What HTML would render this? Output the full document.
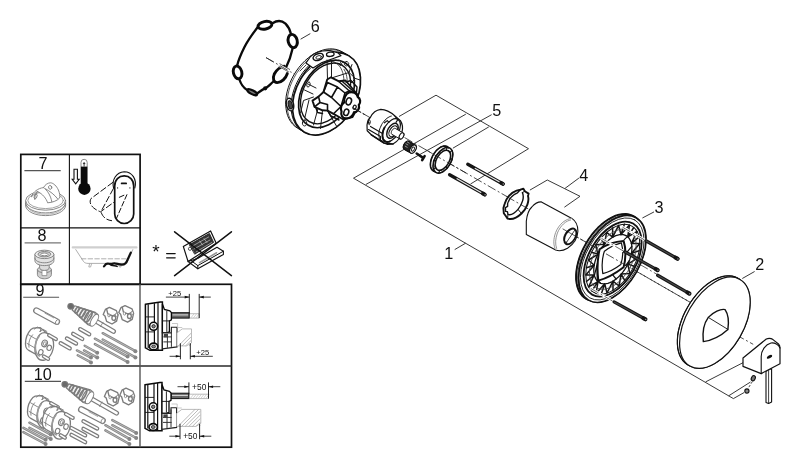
<!DOCTYPE html>
<html>
<head>
<meta charset="utf-8">
<title>Exploded diagram</title>
<style>
html,body{margin:0;padding:0;background:#fff;}
body{width:800px;height:468px;overflow:hidden;font-family:"Liberation Sans",sans-serif;}
svg{display:block;position:absolute;left:0;top:0;will-change:transform;transform:translateZ(0);}
text{opacity:0.999;}
text{font-family:"Liberation Sans",sans-serif;fill:#111;}
.k{stroke:#111;fill:none;stroke-width:1;stroke-linecap:round;stroke-linejoin:round;}
.kw{stroke:#111;fill:#fff;stroke-width:1;stroke-linecap:round;stroke-linejoin:round;}
.t{stroke:#222;fill:none;stroke-width:0.8;stroke-linecap:round;stroke-linejoin:round;}
.tw{stroke:#222;fill:#fff;stroke-width:0.8;stroke-linecap:round;stroke-linejoin:round;}
.g{stroke:#8a8a8a;fill:none;stroke-width:0.9;stroke-linecap:round;stroke-linejoin:round;}
.gw{stroke:#8a8a8a;fill:#fff;stroke-width:0.9;stroke-linecap:round;stroke-linejoin:round;}
.fr{stroke:#111;fill:none;stroke-width:1.6;}
.ld{stroke:#222;fill:none;stroke-width:0.9;}
.cl{stroke:#222;fill:none;stroke-width:0.8;stroke-dasharray:9 2.5 2 2.5;}
</style>
</head>
<body>
<svg width="800" height="468" viewBox="0 0 800 468">
<rect x="0" y="0" width="800" height="468" fill="#fff"/>

<!-- ===== FRAMES ===== -->
<g id="frames">
<rect class="fr" x="20.8" y="154.4" width="119.3" height="129.9" style="stroke-width:1.7"/>
<line class="fr" x1="69.4" y1="154.4" x2="69.4" y2="284.2" style="stroke-width:1.1"/>
<line class="fr" x1="20.7" y1="227.8" x2="140.1" y2="227.8" style="stroke-width:1.2"/>
<rect class="fr" x="20.8" y="284.3" width="210.7" height="162.9" style="stroke-width:1.7"/>
<line class="fr" x1="20.7" y1="366" x2="231.6" y2="366" style="stroke-width:1.6;stroke:#2a2a2a"/>
<line class="fr" x1="140" y1="284.2" x2="140" y2="447.2" style="stroke-width:1.4;stroke:#555"/>
</g>

<g id="leaders">
<path class="ld" d="M399,116.5 L436,95.2 L528.5,148.7 L470.5,184"/>
<path class="ld" d="M465.8,114.2 L353.5,178.2 L733.4,398.6 L744,392.6"/>
<path class="ld" d="M491.6,114.7 L365.8,184.5"/>
<path class="ld" d="M488.8,126.9 L452.9,148.2"/>
<path class="ld" d="M705.6,381.9 L743,362.7"/>
<path class="ld" d="M728.7,395.8 L750.5,382"/>
<path class="ld" d="M578.9,178.1 L565.1,188.3"/>
<path class="ld" d="M529.9,190.1 L547.3,180 L580,196.3 L564.4,207.2"/>
<path class="ld" d="M310.3,33.6 L300.6,39.2"/>
<path class="ld" d="M654,211.9 L642.4,218"/>
<path class="ld" d="M754.6,271.5 L742.3,278.5"/>
<path class="ld" d="M454.7,249.6 L465.6,243.2"/>
</g>
<g id="labels" font-size="16.2">
<text x="310.8" y="32.4">6</text>
<text x="492.2" y="116.4">5</text>
<text x="579.2" y="180.8">4</text>
<text x="654.4" y="212.7">3</text>
<text x="755.2" y="270.4">2</text>
<text x="444.2" y="259">1</text>
</g>
<g id="axis">
<line class="cl" x1="266.0" y1="57.6" x2="690.0" y2="302.2" />
<line class="cl" x1="707.9" y1="319.4" x2="753.2" y2="344.3" />
</g>
<g id="gasket" fill="none" stroke="#0a0a0a" stroke-width="2.3" stroke-linecap="round" stroke-linejoin="round">
<path d="M257.8,27 C254,32 248,40 244.5,47 C241,54 238.5,60 237.3,65"/>
<path d="M272.5,23.2 C277,20.3 282,20.6 285.5,23.6 C288.3,26.4 290,30 291,34"/>
<path d="M292.6,48.5 C291,56 288.5,62.5 286,67.5"/>
<path d="M273.5,81.5 C270,84.5 267.5,87.3 265,88.4 C262,89.6 259.5,92 257,93.6"/>
<path d="M246.6,89.6 C243.6,87.6 240.8,83.6 239.6,80"/>
<ellipse cx="265" cy="25.3" rx="7.0" ry="3.8" transform="rotate(-12 265 25.3)" fill="#fff" stroke-width="2.9"/>
<ellipse cx="292.7" cy="41" rx="4.5" ry="6.7" transform="rotate(-14 292.7 41)" fill="#fff" stroke-width="2.9"/>
<ellipse cx="237.6" cy="72.4" rx="4.2" ry="6.5" transform="rotate(-14 237.6 72.4)" fill="#fff" stroke-width="2.9"/>
<path d="M284.2,66.2 C281,66.6 276.5,69.5 274.3,74 C272.3,78.6 273.6,82.3 277.2,82.6 C281.6,82.6 285.8,78.4 287.3,73.6" fill="#fff" stroke-width="2.9"/>
<ellipse cx="252.2" cy="92.2" rx="5.4" ry="1.9" transform="rotate(27 252.2 92.2)" fill="#777" stroke-width="2.2"/>
<circle cx="265.2" cy="88.3" r="1.3" fill="#111" stroke-width="1.6"/>
</g>
<g id="axis-halo">
<line x1="274" y1="62.2" x2="290.5" y2="71.8" stroke="#fff" stroke-width="3.2"/>
<line x1="266" y1="57.6" x2="290.5" y2="71.75" class="cl"/>
<line x1="279.5" y1="63.6" x2="290" y2="69.6" stroke="#222" stroke-width="0.7"/>
<line x1="278.6" y1="66.2" x2="289" y2="72.2" stroke="#222" stroke-width="0.7"/>
</g>
<g id="body">
<path class="kw" d="M341.8,51.6 L339.0,50.3 L335.9,49.4 L332.7,48.9 L329.4,48.9 L325.9,49.3 L322.4,50.2 L318.8,51.5 L315.3,53.2 L311.8,55.3 L308.3,57.8 L305.0,60.7 L301.9,63.9 L299.0,67.3 L296.3,71.0 L293.8,75.0 L291.7,79.0 L289.8,83.2 L288.3,87.5 L287.1,91.8 L286.2,96.1 L285.8,100.3 L285.7,104.4 L286.0,108.3 L286.6,112.1 L287.6,115.6 L289.0,118.8 L290.7,121.7 L292.7,124.2 L295.0,126.4 L297.6,128.2 L304.4,132.2 L307.2,133.5 L310.3,134.4 L313.5,134.9 L316.8,134.9 L320.3,134.5 L323.8,133.6 L327.4,132.3 L330.9,130.6 L334.4,128.5 L337.9,126.0 L341.2,123.1 L344.3,119.9 L347.2,116.5 L349.9,112.8 L352.4,108.8 L354.5,104.8 L356.4,100.6 L357.9,96.3 L359.1,92.0 L360.0,87.7 L360.4,83.5 L360.5,79.4 L360.2,75.5 L359.6,71.7 L358.6,68.2 L357.2,65.0 L355.5,62.1 L353.5,59.6 L351.2,57.4 L348.6,55.6 Z" />
<path class="k" d="M344.9,54.0 L342.3,52.2 L339.4,51.0 L336.2,50.1 L332.9,49.8 L329.5,49.9 L326.0,50.4 L322.4,51.4 L318.7,52.9 L315.2,54.8 L311.6,57.1 L308.2,59.8 L304.9,62.8 L301.8,66.2 L299.0,69.8 L296.3,73.7 L294.0,77.8 L291.9,82.0 L290.2,86.3 L288.9,90.6 L287.9,95.0 L287.3,99.3 L287.0,103.5 L287.2,107.6 L287.7,111.4 L288.6,115.1 L289.9,118.4 L291.6,121.4 L293.5,124.1 L295.8,126.4 L298.4,128.3 L301.2,129.7" style="stroke-width:0.7"/>
<path class="k" d="M349.4,56.3 L346.7,54.5 L343.8,53.2 L340.6,52.4 L337.3,52.0 L333.8,52.1 L330.3,52.7 L326.7,53.7 L323.0,55.2 L319.4,57.1 L315.9,59.4 L312.4,62.1 L309.1,65.2 L306.0,68.6 L303.1,72.2 L300.5,76.1 L298.1,80.2 L296.0,84.5 L294.3,88.8 L292.9,93.2 L291.9,97.6 L291.3,101.9 L291.1,106.2 L291.2,110.2 L291.8,114.1 L292.7,117.8 L294.0,121.1 L295.6,124.2 L297.6,126.9 L299.9,129.2 L302.5,131.1 L305.4,132.5" style="stroke-width:1.0"/>
<ellipse class="kw" cx="326.5" cy="93.9" rx="44.2" ry="29.9" transform="rotate(-60 326.5 93.9)" style="stroke-width:1.7"/>
<ellipse class="kw" cx="326.5" cy="93.9" rx="36.3" ry="24.5" transform="rotate(-60 326.5 93.9)" style="stroke-width:1.7"/>
<ellipse class="kw" cx="325.6" cy="93.4" rx="32.6" ry="22.0" transform="rotate(-60 325.6 93.4)" style="stroke-width:1.3"/>
<path class="t" d="M311.5,67.0 L314.0,65.2 L316.6,63.6 L319.2,62.4 L321.8,61.5 L324.4,60.9 L326.9,60.6 L329.4,60.7 L331.7,61.1 L333.9,61.9 L336.0,63.0 L337.8,64.4 L339.4,66.1 L340.8,68.1 L341.9,70.4 L342.8,72.8 L343.4,75.5 L343.8,78.3 L343.8,81.3 L343.6,84.4 L343.1,87.5 L342.3,90.7 L341.2,93.8 L339.9,96.9 L338.3,100.0 L336.6,102.9" />
<path class="t" d="M344.0,69.3 L345.2,71.5 L346.1,73.9 L346.7,76.5 L347.1,79.2 L347.2,82.1 L347.1,85.1 L346.7,88.2 L346.0,91.3 L345.0,94.4 L343.8,97.5" />
<path class="kw" style="stroke-width:1.2" d="M306,63 L310.5,56.5 C315,52 322,50.2 330,50.6 L337.5,52.6 L341,55.6 L334,58.2 L322,62.6 L313,68 Z"/>
<ellipse cx="318.2" cy="57" rx="5.3" ry="3.2" transform="rotate(-20 318.2 57)" class="kw" style="stroke-width:1.5"/>
<ellipse cx="318.6" cy="57.3" rx="2.9" ry="1.6" transform="rotate(-20 318.6 57.3)" class="k" style="stroke-width:0.8"/>
<ellipse cx="330.3" cy="54.3" rx="3.8" ry="2.1" transform="rotate(-8 330.3 54.3)" class="kw" style="stroke-width:1.3"/>
<path class="k" d="M300,71 L306,65 M303,75.5 L310.5,68.5" style="stroke-width:0.8"/>
<ellipse cx="290.0" cy="104.6" rx="3.6" ry="6.4" transform="rotate(-14 290.0 104.6)" class="kw" style="stroke-width:1.4"/>
<ellipse cx="290.3" cy="104.9" rx="2.0" ry="4.2" transform="rotate(-14 290.3 104.9)" fill="#444" stroke="#111" stroke-width="1"/>
<g class="t" style="stroke:#1c1c1c;stroke-width:1.0">
<path d="M327,60 L327.5,79 M331.5,61 L331.5,77"/>
<path d="M333,77.5 L349,72.5 L355.5,78.5 L348.5,85.5 L338.5,81"/>
<path d="M349,72.5 L352,64.5 M355.5,78.5 L360,80"/>
<path d="M313.5,97 L303.5,100.5 L300.5,113 M309,100 L305,117"/>
<path d="M318,108.5 L313.5,125 M322.5,110.5 L320.5,128.5 M329,113.5 L336.5,126"/>
<path d="M308,84 L316,88 M304.5,90 L313,94"/>
<path d="M339,60 L343,62.5 M346.5,61.5 a2.2,2.2 0 1 0 0.1,0 M340.5,62.8 a1.3,1.3 0 1 0 0.1,0"/>
<path d="M304.5,120 a2.2,3 0 1 0 0.1,0 M309,82 a1.6,2.6 20 1 0 0.1,0"/>
</g>
<path class="kw" style="stroke-width:1.9" d="M327.2,79.5 L331,77.3 L338.5,81.2 L345.5,80.5 L357.5,94.5 L358.5,106 L352.5,117 L343,119.3 L333.5,113.8 L327.5,110.6 L322.5,110.3 L314.5,106.8 L312.5,100.6 L318.5,96.6 L323.5,92 Z"/>
<path class="k" style="stroke-width:1.6" d="M323.5,92 L327.5,82.5 L337.5,87 L345,93 L341,106.5 L333.5,113.8 M337.5,87 L331.5,97.5 L341,106.5 M331.5,97.5 L323.5,92 M345,93 L350,90.5 M314.5,106.8 L320,102.5 L327.5,104.5 L327.5,110.6 M318.5,96.6 L320,102.5"/>
<path class="k" style="stroke-width:1.4" d="M338.5,81.2 L350.5,92 M341.5,80.8 L353.5,91.5 M346,82 L351,80.5 L357,87 L356.5,92.5 M327.5,110.6 L331,116 L339,120 M316,108 L317.5,112.5 L322.5,113.5"/>
<path d="M349,92.5 C353,91 357,93.5 357.8,97 C360.5,98.5 361,102.5 358.8,105 C360,108.5 357.5,112 354,112.3 C353,116 349.5,119 345.8,118.3 C342.5,118.3 340.5,115 341.5,111.5 C340,108 341.5,104 344.3,102.3 C343.6,98.3 345.5,94 349,92.5 Z" fill="#fff" stroke="#0a0a0a" stroke-width="2.2"/>
<ellipse cx="348.8" cy="101.4" rx="2.6" ry="3.6" transform="rotate(20 348.8 101.4)" fill="#fff" stroke="#111" stroke-width="1.5"/>
<ellipse cx="346.3" cy="112.3" rx="2.4" ry="3.3" transform="rotate(20 346.3 112.3)" fill="#fff" stroke="#111" stroke-width="1.5"/>
<ellipse cx="354.6" cy="107.2" rx="1.5" ry="2.1" transform="rotate(20 354.6 107.2)" fill="#fff" stroke="#111" stroke-width="1.2"/>
<line class="cl" x1="353.5" y1="108.1" x2="367.0" y2="115.9" />
</g>
<g id="cartridge">
<path class="kw" style="stroke-width:1.2" d="M367.2,130.8 L367,125 C367.5,121 369,118.5 370.6,117 C372.5,113 376,110 380.8,109.3 C386,109.3 391,112.3 395,116 L400.4,120.6 C402.6,124 403,128 402,132 C401,137 397.5,141.5 393,144 L387.5,144.4 L384,143 L371.3,134.8 Z"/>
<path class="k" d="M391.3,116.1 L390.3,116.4 L389.2,116.9 L388.2,117.5 L387.1,118.2 L386.1,119.1 L385.1,120.0 L384.2,121.1 L383.3,122.2 L382.4,123.4 L381.6,124.7 L381.0,126.0 L380.4,127.4 L379.8,128.7 L379.4,130.1 L379.1,131.4 L378.9,132.7 L378.8,134.0 L378.9,135.2 L379.0,136.3 L379.2,137.3 L379.6,138.3 L380.0,139.1 L380.6,139.8 L381.2,140.4 L382.0,140.8 L382.8,141.2 L383.6,141.3 L384.5,141.4" style="stroke-width:1.0"/>
<ellipse class="kw" cx="391.5" cy="130.2" rx="12.6" ry="7.3" transform="rotate(-60 391.5 130.2)" style="stroke-width:1.2"/>
<path class="k" d="M384.5,127.5 L383.9,128.7 L383.4,129.9 L383.0,131.1 L382.7,132.4 L382.5,133.6 L382.4,134.7 L382.4,135.8 L382.5,136.9 L382.7,137.9 L382.9,138.8 L383.3,139.6 L383.8,140.2 L384.3,140.8 L384.9,141.3 L385.6,141.7 L386.4,141.9 L387.2,142.0 L388.1,141.9 L389.0,141.8 L389.9,141.5" style="stroke-width:1.8"/>
<ellipse class="kw" cx="392.5" cy="130.8" rx="8.2" ry="4.7" transform="rotate(-60 392.5 130.8)" style="stroke-width:1.4"/>
<ellipse class="kw" cx="393.2" cy="131.2" rx="6.0" ry="3.5" transform="rotate(-60 393.2 131.2)" style="stroke-width:1.1"/>
<path class="kw" d="M395.4,128.5 L395.2,128.4 L395.0,128.4 L394.8,128.3 L394.5,128.4 L394.3,128.4 L394.0,128.5 L393.8,128.6 L393.5,128.8 L393.3,128.9 L393.0,129.1 L392.8,129.4 L392.6,129.6 L392.4,129.9 L392.2,130.2 L392.0,130.5 L391.8,130.8 L391.6,131.1 L391.5,131.4 L391.4,131.8 L391.3,132.1 L391.3,132.4 L391.3,132.7 L391.3,133.0 L391.3,133.3 L391.3,133.5 L391.4,133.7 L391.5,133.9 L391.6,134.1 L391.8,134.3 L392.0,134.4 L399.8,138.9 L399.9,139.0 L400.1,139.0 L400.4,139.1 L400.6,139.0 L400.8,139.0 L401.1,138.9 L401.3,138.8 L401.6,138.6 L401.8,138.5 L402.1,138.3 L402.3,138.0 L402.5,137.8 L402.8,137.5 L403.0,137.2 L403.2,136.9 L403.3,136.6 L403.5,136.3 L403.6,136.0 L403.7,135.6 L403.8,135.3 L403.8,135.0 L403.9,134.7 L403.9,134.4 L403.8,134.1 L403.8,133.9 L403.7,133.7 L403.6,133.5 L403.5,133.3 L403.3,133.1 L403.2,133.0 Z" />
<ellipse class="kw" cx="401.5" cy="135.9" rx="3.4" ry="2.0" transform="rotate(-60 401.5 135.9)" style="stroke-width:1.1"/>
<path class="k" style="stroke-width:1.1" d="M368.5,129.6 L380.5,136.6 L380.5,140.5 M370.5,126.4 L382.5,133.4 M368.3,121.6 L369.2,124.6 M384.5,122.8 L387.3,120.6 L389,122.4 M395,116.4 L397.8,119.6 L396,122.4"/>
<path class="k" style="stroke-width:1.5" d="M371.3,134.8 L384,143 L393,144"/>
<path class="k" style="stroke-width:0.9" d="M368.6,119.6 L370.2,120.6 L370.2,123.4 L368.6,122.6 Z"/>
</g>
<line class="cl" x1="352.4" y1="107.5" x2="366.3" y2="115.5" />
<g id="bushing">
<path class="kw" d="M408.8,141.3 L408.5,141.2 L408.3,141.1 L408.0,141.1 L407.7,141.1 L407.3,141.2 L407.0,141.3 L406.7,141.5 L406.3,141.6 L406.0,141.9 L405.7,142.2 L405.3,142.5 L405.0,142.8 L404.7,143.2 L404.5,143.6 L404.2,144.0 L404.0,144.4 L403.8,144.8 L403.6,145.3 L403.5,145.7 L403.4,146.1 L403.3,146.6 L403.3,147.0 L403.3,147.4 L403.3,147.7 L403.4,148.1 L403.5,148.4 L403.6,148.7 L403.8,148.9 L404.0,149.1 L404.2,149.3 L410.7,153.1 L411.0,153.2 L411.2,153.3 L411.5,153.3 L411.8,153.3 L412.2,153.2 L412.5,153.1 L412.8,152.9 L413.2,152.8 L413.5,152.5 L413.8,152.2 L414.2,151.9 L414.5,151.6 L414.8,151.2 L415.0,150.8 L415.3,150.4 L415.5,150.0 L415.7,149.6 L415.9,149.1 L416.0,148.7 L416.1,148.3 L416.2,147.8 L416.2,147.4 L416.2,147.0 L416.2,146.7 L416.1,146.3 L416.0,146.0 L415.9,145.7 L415.7,145.5 L415.5,145.3 L415.3,145.1 Z" />
<path d="M408.8,141.3 L408.5,141.2 L408.3,141.1 L408.0,141.1 L407.7,141.1 L407.3,141.2 L407.0,141.3 L406.7,141.5 L406.3,141.6 L406.0,141.9 L405.7,142.2 L405.3,142.5 L405.0,142.8 L404.7,143.2 L404.5,143.6 L404.2,144.0 L404.0,144.4 L403.8,144.8 L403.6,145.3 L403.5,145.7 L403.4,146.1 L403.3,146.6 L403.3,147.0 L403.3,147.4 L403.3,147.7 L403.4,148.1 L403.5,148.4 L403.6,148.7 L403.8,148.9 L404.0,149.1 L404.2,149.3 L408.0,151.5 L408.3,151.6 L408.5,151.7 L408.8,151.7 L409.1,151.7 L409.5,151.6 L409.8,151.5 L410.1,151.3 L410.5,151.2 L410.8,150.9 L411.2,150.6 L411.5,150.3 L411.8,150.0 L412.1,149.6 L412.4,149.2 L412.6,148.8 L412.8,148.4 L413.0,148.0 L413.2,147.5 L413.3,147.1 L413.5,146.7 L413.5,146.2 L413.6,145.8 L413.6,145.4 L413.5,145.1 L413.5,144.7 L413.3,144.4 L413.2,144.1 L413.0,143.9 L412.8,143.7 L412.6,143.5 Z" fill="#222" stroke="#111" stroke-width="1.1"/>
<ellipse class="kw" cx="413.0" cy="149.1" rx="4.6" ry="2.7" transform="rotate(-60 413.0 149.1)" style="stroke-width:1.2"/>
<ellipse class="k" cx="413.0" cy="149.1" rx="2.2" ry="1.3" transform="rotate(-60 413.0 149.1)" style="stroke-width:0.9"/>
<path d="M407,141.8 l2.6,1.5 M405.6,143.6 l2.6,1.5 M404.9,146 l2.6,1.5" stroke="#ddd" stroke-width="0.6"/>
<path d="M416.7,153.5 L422.4,157.4" stroke="#111" stroke-width="2.5" stroke-linecap="round"/>
<path d="M424.6,156.2 L422.2,160.2" stroke="#111" stroke-width="2.6" stroke-linecap="round"/>
</g>
<g id="nut">
<path class="kw" d="M447.3,146.7 L446.5,146.3 L445.7,146.1 L444.8,146.0 L443.9,146.1 L442.9,146.3 L441.9,146.6 L440.8,147.1 L439.8,147.7 L438.8,148.4 L437.7,149.2 L436.8,150.2 L435.8,151.2 L434.9,152.3 L434.1,153.5 L433.3,154.8 L432.6,156.1 L432.0,157.4 L431.5,158.7 L431.1,160.0 L430.7,161.4 L430.5,162.7 L430.4,163.9 L430.4,165.1 L430.5,166.2 L430.7,167.3 L431.1,168.2 L431.5,169.1 L432.0,169.8 L432.6,170.4 L433.3,170.9 L435.9,172.4 L436.7,172.8 L437.5,173.0 L438.4,173.1 L439.4,173.0 L440.3,172.8 L441.3,172.5 L442.4,172.0 L443.4,171.4 L444.4,170.7 L445.5,169.9 L446.4,168.9 L447.4,167.9 L448.3,166.8 L449.1,165.6 L449.9,164.3 L450.6,163.0 L451.2,161.7 L451.7,160.4 L452.1,159.1 L452.5,157.7 L452.7,156.4 L452.8,155.2 L452.8,154.0 L452.7,152.9 L452.5,151.8 L452.1,150.9 L451.7,150.0 L451.2,149.3 L450.6,148.7 L449.9,148.2 Z" />
<ellipse class="kw" cx="442.9" cy="160.3" rx="14.0" ry="8.1" transform="rotate(-60 442.9 160.3)" style="stroke-width:1.6"/>
<path class="k" d="M448.4,147.6 L447.8,147.0 L447.0,146.5 L446.2,146.2 L445.4,146.1 L444.4,146.0 L443.5,146.1 L442.5,146.4 L441.4,146.8 L440.4,147.3 L439.3,148.0 L438.3,148.8 L437.3,149.7 L436.3,150.6 L435.4,151.7 L434.5,152.9 L433.7,154.1 L432.9,155.4 L432.3,156.7 L431.7,158.1 L431.2,159.4 L430.9,160.8 L430.6,162.1 L430.5,163.4 L430.4,164.6 L430.5,165.8 L430.6,166.9 L430.9,167.9 L431.3,168.8 L431.8,169.6 L432.4,170.2 L433.0,170.8 L433.8,171.2 L434.6,171.4" style="stroke-width:1.6"/>
<ellipse class="kw" cx="442.9" cy="160.3" rx="11.0" ry="6.3" transform="rotate(-60 442.9 160.3)" style="stroke-width:1.5"/>
<path class="k" d="M444.1,149.7 L443.4,149.8 L442.7,150.0 L441.9,150.3 L441.1,150.6 L440.4,151.1 L439.6,151.7 L438.8,152.3 L438.1,153.0 L437.4,153.8 L436.8,154.7 L436.2,155.6 L435.6,156.5 L435.1,157.5 L434.7,158.5 L434.3,159.5 L434.0,160.5 L433.8,161.4 L433.7,162.4 L433.6,163.3 L433.7,164.2 L433.8,165.0 L434.0,165.7 L434.2,166.4 L434.6,167.0 L435.0,167.5" style="stroke-width:0.9"/>
<line class="k" x1="450.1" y1="152.3" x2="451.9" y2="150.3" style="stroke-width:1.1"/>
<line class="k" x1="450.3" y1="159.1" x2="452.2" y2="158.8" style="stroke-width:1.1"/>
<line class="k" x1="446.2" y1="166.7" x2="447.1" y2="168.2" style="stroke-width:1.1"/>
<line class="k" x1="439.6" y1="170.5" x2="438.7" y2="173.1" style="stroke-width:1.1"/>
<line class="k" x1="435.5" y1="167.7" x2="433.6" y2="169.6" style="stroke-width:1.1"/>
<line class="k" x1="435.7" y1="160.6" x2="433.9" y2="160.7" style="stroke-width:1.1"/>
<line class="k" x1="440.2" y1="153.3" x2="439.5" y2="151.5" style="stroke-width:1.1"/>
<line class="k" x1="446.2" y1="150.1" x2="447.1" y2="147.5" style="stroke-width:1.1"/>
<line class="cl" x1="425.5" y1="149.6" x2="432.0" y2="153.4" />
<line class="cl" x1="433.0" y1="154.0" x2="466.0" y2="173.0" />
</g>
<g id="screws5">
<line x1="467.8" y1="164.3" x2="503.0" y2="183.9" stroke="#151515" stroke-width="3.4" stroke-linecap="round"/><line x1="474.8" y1="168.2" x2="500.2" y2="182.3" stroke="#e8e8e8" stroke-width="1.2"/><line x1="501.1" y1="182.8" x2="503.0" y2="183.9" stroke="#151515" stroke-width="3.8" stroke-linecap="round"/><circle cx="503.3" cy="184.0" r="0.7" fill="#999"/>
<line x1="449.6" y1="174.7" x2="484.8" y2="194.6" stroke="#151515" stroke-width="3.4" stroke-linecap="round"/><line x1="456.6" y1="178.6" x2="482.0" y2="193.0" stroke="#e8e8e8" stroke-width="1.2"/><line x1="482.9" y1="193.5" x2="484.8" y2="194.6" stroke="#151515" stroke-width="3.8" stroke-linecap="round"/><circle cx="485.1" cy="194.7" r="0.7" fill="#999"/>
</g>
<g id="clip">
<path class="kw" style="stroke-width:1.9" d="M520.5,189.6 L523.4,188.6 L524.8,191.2 L528.6,193.6 L528,196 C529.5,201 527,208 521.5,213.5 C517,217.8 511.5,219.8 507.6,218.6 L505.8,216 L503.8,213.2 L503.4,208 L504.6,204 C506,198 511,192.5 516.5,190.6 Z"/>
<path class="k" style="stroke-width:1.4" d="M522.4,192.6 C524.5,197 522.5,204 518,209.4 C514.5,213.4 510.5,215.4 508,214.4 L507.4,211.6 L505.6,211.4 L505.4,207.6 L507.6,206.4 L507.6,203.6 C509,199 513,194.6 517.5,192.8 L520.5,189.6"/>
<path class="k" style="stroke-width:1.0" d="M522.4,192.6 L524.8,191.2 M518,209.4 L521.5,213.5 M508,214.4 L507.6,218.6"/>
<line class="cl" x1="506.5" y1="196.4" x2="530.0" y2="209.9" />
</g>
<g id="sleeve">
<path class="kw" style="stroke-width:1.1" d="M526.3,234.6 L526.3,221.2 C527,214.5 529,209.6 531.8,207 C534.5,203.8 538,201.8 541.4,201.9 L571.9,218.4 C575.5,220.8 578,226 577.9,231.3 C577.6,238 573.5,244.4 567.5,248.2 C563.5,250.6 559,251.2 555.7,250.1 Z"/>
<path class="g" d="M571.9,218.4 C566,218.4 559,224 555.6,232.6 C553.4,239 553,245 555.7,250.1"/>
<path class="g" d="M570.6,220 C566,220.6 560.4,225.6 557.4,233 C555.4,238.6 555,244 556.6,248.4"/>
<ellipse class="kw" cx="570.3" cy="236.4" rx="8.6" ry="5.0" transform="rotate(-60 570.3 236.4)" style="stroke-width:1.8"/>
<path class="k" d="M570.2,229.2 L569.7,229.3 L569.2,229.6 L568.6,229.9 L568.1,230.3 L567.6,230.7 L567.1,231.2 L566.6,231.7 L566.1,232.3 L565.7,232.9 L565.3,233.6 L564.9,234.3 L564.6,235.0 L564.3,235.7 L564.1,236.4 L564.0,237.0 L563.9,237.7 L563.8,238.4 L563.8,239.0 L563.9,239.5 L564.0,240.1 L564.2,240.6 L564.4,241.0 L564.7,241.4 L565.1,241.7 L565.4,241.9 L565.8,242.1 L566.3,242.2 L566.8,242.2" style="stroke-width:0.9"/>
<line class="k" x1="574.9" y1="230.0" x2="566.0" y2="243.1" style="stroke-width:0.8"/>
<line class="k" x1="563.0" y1="229.0" x2="578.0" y2="237.6" style="stroke-width:0.7"/>
<line class="cl" x1="580.0" y1="238.8" x2="590.0" y2="244.5" />
</g>
<g id="frame">
<path class="kw" d="M633.5,216.2 L630.9,215.0 L628.0,214.2 L625.0,214.0 L621.8,214.2 L618.4,214.8 L615.0,216.0 L611.5,217.6 L608.0,219.6 L604.4,222.1 L601.0,224.9 L597.7,228.1 L594.4,231.6 L591.4,235.4 L588.5,239.4 L585.9,243.7 L583.6,248.1 L581.5,252.5 L579.7,257.1 L578.3,261.6 L577.2,266.1 L576.5,270.5 L576.1,274.8 L576.1,278.8 L576.5,282.7 L577.2,286.2 L578.3,289.5 L579.7,292.4 L581.5,294.9 L583.5,297.0 L585.9,298.6 L588.5,300.1 L591.1,301.3 L594.0,302.1 L597.0,302.3 L600.2,302.1 L603.6,301.5 L607.0,300.3 L610.5,298.7 L614.1,296.7 L617.6,294.2 L621.0,291.4 L624.3,288.2 L627.6,284.7 L630.6,280.9 L633.5,276.9 L636.1,272.6 L638.4,268.2 L640.5,263.8 L642.3,259.2 L643.7,254.7 L644.8,250.2 L645.5,245.8 L645.9,241.5 L645.9,237.5 L645.5,233.6 L644.8,230.1 L643.7,226.8 L642.3,223.9 L640.5,221.4 L638.5,219.3 L636.1,217.7 Z" />
<path class="k" d="M636.6,218.5 L634.3,216.6 L631.7,215.3 L628.8,214.4 L625.8,214.0 L622.5,214.1 L619.1,214.7 L615.6,215.7 L612.1,217.3 L608.5,219.3 L604.9,221.7 L601.4,224.6 L597.9,227.8 L594.6,231.4 L591.5,235.2 L588.6,239.3 L585.9,243.7 L583.5,248.1 L581.4,252.7 L579.6,257.4 L578.2,262.0 L577.1,266.6 L576.4,271.1 L576.1,275.4 L576.1,279.5 L576.6,283.4 L577.4,286.9 L578.6,290.2 L580.1,293.0 L582.0,295.5 L584.2,297.5 L586.7,299.1 L589.4,300.1" style="stroke-width:1.9"/>
<path class="k" d="M637.5,219.7 L635.2,217.9 L632.6,216.5 L629.8,215.6 L626.8,215.2 L623.6,215.3 L620.2,215.9 L616.8,217.0 L613.2,218.5 L609.7,220.5 L606.2,222.9 L602.7,225.7 L599.3,228.9 L596.0,232.4 L592.9,236.2 L590.1,240.3 L587.4,244.5 L585.1,249.0 L583.0,253.5 L581.2,258.1 L579.8,262.6 L578.7,267.2 L578.0,271.6 L577.7,275.9 L577.8,279.9 L578.2,283.7 L579.0,287.3 L580.2,290.5 L581.7,293.3 L583.6,295.7 L585.7,297.7 L588.2,299.2 L590.9,300.3" style="stroke-width:0.8"/>
<ellipse class="kw" cx="612.3" cy="258.9" rx="47.6" ry="27.5" transform="rotate(-60 612.3 258.9)" style="stroke-width:1.7"/>
<ellipse class="k" cx="612.3" cy="258.9" rx="45.0" ry="26.0" transform="rotate(-60 612.3 258.9)" style="stroke-width:0.8"/>
<ellipse class="kw" cx="612.6" cy="259.1" rx="41.0" ry="23.7" transform="rotate(-60 612.6 259.1)" style="stroke-width:1.8"/>
<ellipse class="k" cx="612.8" cy="259.2" rx="38.2" ry="22.0" transform="rotate(-60 612.8 259.2)" style="stroke-width:1.0"/>
<path class="k" style="stroke-width:1.5;stroke:#151515" d="M633.8,227.5 L627.7,236.8 M627.7,236.8 L637.1,231.5 L631.4,243.4 M639.1,236.9 L631.4,243.4 M631.4,243.4 L639.8,243.4 L631.5,253.2 M639.2,250.7 L631.5,253.2 M631.5,253.2 L637.2,258.4 L627.8,264.1 M634.1,266.2 L627.8,264.1 M627.8,264.1 L629.8,273.6 L621.2,274.1 M624.7,280.3 L621.2,274.1 M621.2,274.1 L619.0,286.0 L613.0,281.2 M613.0,290.3 L613.0,281.2 M613.0,281.2 L607.0,293.0 L604.7,283.8 M601.3,294.1 L604.7,283.8 M604.7,283.8 L596.1,293.4 L598.0,281.6 M591.8,290.9 L598.0,281.6 M598.0,281.6 L588.6,286.9 L594.2,275.0 M586.5,281.5 L594.2,275.0 M594.2,275.0 L585.8,275.0 L594.2,265.2 M586.5,267.7 L594.2,265.2 M594.2,265.2 L588.4,260.0 L597.8,254.3 M591.6,252.2 L597.8,254.3 M597.8,254.3 L595.8,244.8 L604.4,244.3 M600.9,238.1 L604.4,244.3 M604.4,244.3 L606.6,232.4 L612.7,237.2 M612.6,228.1 L612.7,237.2 M612.7,237.2 L618.6,225.4 L621.0,234.6 M624.4,224.3 L621.0,234.6 M621.0,234.6 L629.5,225.0 L627.7,236.8"/>
<path class="k" d="M629.3,230.6 L631.0,231.8 L632.4,233.2 L633.6,235.0 L634.6,237.0 L635.4,239.2 L635.9,241.7 L636.1,244.3 L636.1,247.2 L635.9,250.1 L635.4,253.2 L634.6,256.3 L633.6,259.4 L632.4,262.6 L630.9,265.7 L629.3,268.7 L627.5,271.7 L625.5,274.5 L623.4,277.1 L621.2,279.5 L618.9,281.7 L616.5,283.7 L614.0,285.4 L611.6,286.8 L609.2,287.9 L606.8,288.7 L604.5,289.2 L602.2,289.3 L600.1,289.1 L598.1,288.6 L596.3,287.8 L594.7,286.6 L593.3,285.2 L592.0,283.4 L591.0,281.4 L590.3,279.2 L589.8,276.7 L589.5,274.1 L589.5,271.2 L589.8,268.3 L590.3,265.2 L591.0,262.1 L592.0,259.0 L593.3,255.8 L594.7,252.7 L596.3,249.7 L598.1,246.7 L600.1,243.9 L602.2,241.3 L604.5,238.9 L606.8,236.7 L609.2,234.7 L611.6,233.0 L614.0,231.6 L616.5,230.5 L618.9,229.7 L621.2,229.2 L623.4,229.1 L625.5,229.3 L627.5,229.8 L629.3,230.6" style="stroke-width:0.9;stroke:#444"/>
<path class="k" d="M626.3,235.8 L627.7,236.8 L628.8,237.9 L629.8,239.4 L630.6,241.0 L631.3,242.8 L631.7,244.9 L631.9,247.0 L631.9,249.3 L631.7,251.8 L631.3,254.3 L630.6,256.8 L629.8,259.4 L628.8,262.0 L627.6,264.5 L626.3,267.0 L624.8,269.4 L623.2,271.7 L621.5,273.8 L619.7,275.8 L617.8,277.6 L615.8,279.2 L613.8,280.6 L611.8,281.8 L609.8,282.7 L607.9,283.3 L606.0,283.7 L604.1,283.8 L602.4,283.7 L600.8,283.3 L599.3,282.6 L598.0,281.6 L596.8,280.5 L595.8,279.0 L595.0,277.4 L594.4,275.6 L594.0,273.5 L593.8,271.4 L593.8,269.1 L594.0,266.6 L594.4,264.1 L595.0,261.6 L595.8,259.0 L596.8,256.4 L598.0,253.9 L599.3,251.4 L600.8,249.0 L602.4,246.7 L604.2,244.6 L606.0,242.6 L607.9,240.8 L609.8,239.2 L611.8,237.8 L613.8,236.6 L615.8,235.7 L617.8,235.1 L619.7,234.7 L621.5,234.6 L623.2,234.7 L624.8,235.1 L626.3,235.8" style="stroke-width:1.3"/>
<path class="k" style="stroke-width:1.2" d="M600.6,249.8 L594.4,275.6 M624.2,239.6 L627.4,236.6 M625.6,265.6 L629.3,260.7 M597.4,279.6 L600.5,283.2 M612.5,243.6 L606.3,242.3 M626.6,252.6 L631.8,246.3 M611.5,273.4 L616.1,279.0 M597.2,264.6 L597.2,280.9"/>
<path class="kw" style="stroke-width:2.0" d="M599.6,249.2 C606,244.6 616,241.4 623.6,240.9 C626,248 626,259 623.6,267.2 C616,273 606,278.5 598.3,280.6 C597,270 597.6,258 599.6,249.2 Z"/>
<path class="kw" style="stroke-width:1.2" d="M604.4,251.2 C609,247.5 616,244.2 621.4,242.8 C623,249 623,258 620.8,264.6 C615,269 608,272.5 602.8,273.6 C601.6,266 602.4,257 604.4,251.2 Z"/>
<line class="k" x1="622.5" y1="227.2" x2="645.9" y2="240.7" style="stroke:#fff;stroke-width:2.6"/>
<line class="cl" x1="622.5" y1="227.2" x2="645.9" y2="240.7" style="stroke-width:0.7"/>
<line class="k" x1="601.5" y1="238.4" x2="624.7" y2="251.8" style="stroke:#fff;stroke-width:2.6"/>
<line class="cl" x1="601.5" y1="238.4" x2="624.7" y2="251.8" style="stroke-width:0.7"/>
<line class="k" x1="590.7" y1="288.4" x2="614.1" y2="301.9" style="stroke:#fff;stroke-width:2.6"/>
<line class="cl" x1="590.7" y1="288.4" x2="614.1" y2="301.9" style="stroke-width:0.7"/>
<line class="cl" x1="590.0" y1="244.5" x2="598.5" y2="249.5" />
<line class="cl" x1="606.0" y1="253.8" x2="690.0" y2="302.2" />
</g>
<g id="screws3">
<line x1="645.9" y1="240.7" x2="677.6" y2="258.8" stroke="#151515" stroke-width="3.3" stroke-linecap="round"/><line x1="645.9" y1="240.7" x2="674.8" y2="257.2" stroke="#4a4a4a" stroke-width="1.1"/><line x1="675.7" y1="257.7" x2="677.6" y2="258.8" stroke="#151515" stroke-width="4.2" stroke-linecap="round"/><circle cx="677.9" cy="258.9" r="0.7" fill="#999"/>
<line x1="624.7" y1="251.8" x2="657.6" y2="270.1" stroke="#151515" stroke-width="3.3" stroke-linecap="round"/><line x1="624.7" y1="251.8" x2="654.8" y2="268.5" stroke="#4a4a4a" stroke-width="1.1"/><line x1="655.7" y1="269.0" x2="657.6" y2="270.1" stroke="#151515" stroke-width="4.2" stroke-linecap="round"/><circle cx="657.9" cy="270.2" r="0.7" fill="#999"/>
<line x1="657.6" y1="275.3" x2="689.4" y2="293.6" stroke="#151515" stroke-width="3.3" stroke-linecap="round"/><line x1="657.6" y1="275.3" x2="686.6" y2="292.0" stroke="#4a4a4a" stroke-width="1.1"/><line x1="687.5" y1="292.5" x2="689.4" y2="293.6" stroke="#151515" stroke-width="4.2" stroke-linecap="round"/><circle cx="689.7" cy="293.7" r="0.7" fill="#999"/>
<line x1="614.1" y1="301.9" x2="645.4" y2="319.3" stroke="#151515" stroke-width="3.3" stroke-linecap="round"/><line x1="614.1" y1="301.9" x2="642.6" y2="317.7" stroke="#4a4a4a" stroke-width="1.1"/><line x1="643.5" y1="318.2" x2="645.4" y2="319.3" stroke="#151515" stroke-width="4.2" stroke-linecap="round"/><circle cx="645.7" cy="319.4" r="0.7" fill="#999"/>
<line class="cl" x1="640.0" y1="264.5" x2="657.6" y2="274.7" style="stroke-width:0.7"/>
</g>
<g id="plate">
<path class="kw" d="M737.6,278.1 L734.9,276.8 L731.9,276.0 L728.7,275.8 L725.3,276.0 L721.8,276.7 L718.2,277.9 L714.5,279.6 L710.8,281.7 L707.1,284.3 L703.5,287.3 L700.0,290.6 L696.6,294.3 L693.4,298.3 L690.4,302.5 L687.7,307.0 L685.2,311.6 L683.0,316.3 L681.2,321.1 L679.7,325.8 L678.5,330.6 L677.7,335.2 L677.4,339.7 L677.4,343.9 L677.7,348.0 L678.5,351.7 L679.6,355.1 L681.2,358.1 L683.0,360.8 L685.2,363.0 L687.6,364.7 L689.9,366.0 L692.6,367.3 L695.6,368.1 L698.8,368.3 L702.2,368.1 L705.7,367.4 L709.4,366.2 L713.0,364.5 L716.7,362.4 L720.4,359.8 L724.0,356.8 L727.6,353.5 L730.9,349.8 L734.1,345.8 L737.1,341.6 L739.9,337.1 L742.4,332.5 L744.5,327.8 L746.4,323.0 L747.9,318.3 L749.0,313.5 L749.8,308.9 L750.2,304.4 L750.2,300.2 L749.8,296.1 L749.0,292.4 L747.9,289.0 L746.4,286.0 L744.5,283.3 L742.4,281.1 L739.9,279.4 Z" />
<path class="k" d="M740.1,279.8 L737.6,278.1 L734.9,276.8 L731.9,276.0 L728.7,275.8 L725.3,276.0 L721.8,276.7 L718.2,277.9 L714.5,279.6 L710.8,281.7 L707.1,284.3 L703.5,287.3 L700.0,290.6 L696.6,294.3 L693.4,298.3 L690.4,302.5 L687.7,307.0 L685.2,311.6 L683.0,316.3 L681.2,321.1 L679.7,325.8 L678.5,330.6 L677.7,335.2 L677.4,339.7 L677.4,343.9 L677.7,348.0 L678.5,351.7 L679.6,355.1 L681.2,358.1 L683.0,360.8 L685.2,363.0 L687.6,364.7 L690.4,366.0" style="stroke-width:1.2"/>
<ellipse class="kw" cx="714.9" cy="322.7" rx="50.0" ry="28.8" transform="rotate(-60 714.9 322.7)" style="stroke-width:1.2"/>
<path class="kw" transform="translate(-0.3 1.0)" style="stroke-width:1.4" d="M703.6,340.6 C702.6,331.5 704.5,322 708.6,316.4 C713.5,311 721,307.6 725.4,308.6 C728,312.4 729.4,320 728.2,328.4 C721.5,334.5 711.5,339.4 703.6,340.6 Z"/>
<path class="k" transform="translate(-0.3 1.0)" style="stroke-width:0.9" d="M708.6,316.4 L728.2,328.4"/>
</g>
<g id="handle">
<path class="kw" style="stroke-width:1.1" d="M766,371.2 L766,402.4 L768.6,403.4 L771.6,402 L771.6,368.4 Z"/>
<path class="k" style="stroke-width:0.8" d="M768.6,403.4 L768.6,371"/>
<path class="kw" style="stroke-width:1.2" d="M743,358 L766.3,339 C768.5,338 771,338.2 773,339.6 L778.5,344 C779.6,345 780,346.5 780,348 L780,363.8 L761.2,373.6 L743,366.4 Z"/>
<path class="k" style="stroke-width:1.1" d="M761.2,373.6 L761.2,356.5 C761.5,350 765.5,344.5 771,343 C774.5,342.4 778.6,344.4 780,348"/>
<ellipse cx="769.5" cy="356.8" rx="3" ry="1.5" transform="rotate(-28 769.5 356.8)" fill="#111"/>
<ellipse cx="753.3" cy="378.2" rx="1.9" ry="2.7" transform="rotate(25 753.3 378.2)" fill="#777" stroke="#111" stroke-width="1.1"/>
<ellipse cx="746.9" cy="391" rx="2.1" ry="2.1" fill="#888" stroke="#111" stroke-width="1.1"/>
<path d="M752.3,381.6 L748,388.6" stroke="#222" stroke-width="0.8" stroke-dasharray="2.5 1.5"/>
</g>
<g id="left-labels" font-size="16.2">
<text x="38.4" y="168.6">7</text><line x1="24.4" y1="170.7" x2="60.7" y2="170.7" stroke="#555" stroke-width="1.2"/>
<text x="37.5" y="240.7">8</text><line x1="24.6" y1="242.9" x2="60.9" y2="242.9" stroke="#777" stroke-width="1.4"/>
<text x="35.5" y="295.8">9</text><line x1="23.2" y1="297.2" x2="59.1" y2="297.2" stroke="#555" stroke-width="1.1"/>
<text x="33.8" y="380.1">10</text><line x1="24.8" y1="381.4" x2="61" y2="381.4" stroke="#555" stroke-width="1.1"/>
</g>
<g id="cap" fill="none" stroke="#7c7c7c" stroke-width="0.9" stroke-linecap="round" stroke-linejoin="round">
<path d="M25.6,201 L25.6,206 C26.5,211.5 35,215.6 45.6,215.6 C56.2,215.6 64.6,211.5 65.6,206 L65.6,201" fill="#fff"/>
<path d="M25.6,203.3 C26.5,208.8 35,212.9 45.6,212.9 C56.2,212.9 64.6,208.8 65.6,203.3"/>
<path d="M26.4,205 C27.5,210.3 35.5,214.2 45.6,214.2 C55.7,214.2 63.7,210.3 64.8,205" stroke-width="0.6"/>
<ellipse cx="45.6" cy="200.6" rx="20" ry="9.6" fill="#fff"/>
<ellipse cx="45.6" cy="200.4" rx="17.8" ry="8.2" stroke-width="0.7"/>
<path d="M31.5,196.5 C33,192 38,188.2 43.5,187.6 C45,184.6 48,182.8 50.6,182.8 C53.5,183 56.5,186 58.4,190 C59.6,193 60.2,196 59.6,198 C57,201 52,202.6 47.6,202.8 C46.5,199 42.6,193.5 37.5,191.6 Z" fill="#fff"/>
<path d="M43.5,187.6 C47,190 50.6,195 51.8,201.6 M45.6,188.8 C50,191.4 54.5,194.6 57.6,198.8 M37.5,191.6 C35.5,193.6 34.4,196.6 34.8,199.6"/>
<ellipse cx="50.2" cy="187.4" rx="1.6" ry="1.9" transform="rotate(-20 50.2 187.4)"/>
<ellipse cx="35.6" cy="196.4" rx="1.3" ry="2.2" transform="rotate(28 35.6 196.4)"/>
</g>
<g id="thermo">
<path d="M81,186 L81,162.4 a3.1,3.1 0 0 1 6.2,0 L87.2,186" fill="#fff" stroke="#8a8a8a" stroke-width="1"/>
<rect x="80.9" y="166.6" width="6.4" height="20" fill="#0a0a0a"/>
<circle cx="84.4" cy="188.7" r="6.2" fill="#0a0a0a"/>
<path d="M84.1,162 L84.1,166.6 M82.9,163.6 L85.3,163.6" stroke="#111" stroke-width="0.8"/>
<path d="M74,169.2 L77.4,169.2 L77.4,179.3 L79.2,179.3 L75.7,183.8 L72.2,179.3 L74,179.3 Z" fill="#fff" stroke="#111" stroke-width="1.1" stroke-linejoin="miter"/>
</g>
<g id="lever7" fill="none" stroke="#111" stroke-linecap="round">
<path d="M112.8,182.4 L91.1,198.5 C88.6,202 90.6,208 100.5,211.8 L115,201.5 M113.3,188.7 L101.3,211 M101.3,212.7 C102.5,216.5 106,220 111.6,220.7" stroke-width="1.0" stroke-dasharray="6 2.8"/>
<path d="M113.6,188.2 C111.4,179.6 116.4,172.4 124.2,171.8 C132.2,171.8 137.2,179.4 134.8,188" stroke-width="1.1"/>
<path d="M114.7,186 L114.7,214 a9.5,9.5 0 0 0 19,0 L133.7,186 C133.7,179.6 129.6,175.9 124.2,175.9 C118.8,175.9 114.7,179.6 114.7,186 Z" fill="#fff" stroke-width="1.7"/>
<path d="M121.6,183.4 L126.2,183.4" stroke-width="1.7"/>
<circle cx="117.6" cy="187.9" r="0.6" fill="#111" stroke="none"/><circle cx="129.9" cy="187.9" r="0.6" fill="#111" stroke="none"/>
<path d="M126.9,194.7 L116.7,217.8 M119.3,197.3 L125.4,194.6" stroke-width="1.0" stroke-dasharray="5 2.4"/>
</g>
<g id="valve8" stroke="#7c7c7c" stroke-width="0.9" fill="#e4e4e4" stroke-linejoin="round">
<path d="M37.4,269.6 L37.4,274.4 C37.4,277 40.6,278.8 44.4,278.8 C48.2,278.8 51.4,277 51.4,274.4 L51.4,269.6 Z" fill="#cfcfcf"/>
<ellipse cx="44.4" cy="269.6" rx="7" ry="3.1" fill="#d6d6d6"/>
<rect x="42" y="270" width="4.8" height="5.6" fill="#fff" stroke-width="0.7"/>
<path d="M39.6,262.6 L39.6,267.6 C39.6,269.4 41.6,270.4 44.4,270.4 C47.2,270.4 49.2,269.4 49.2,267.6 L49.2,262.6 Z" fill="#dcdcdc"/>
<path d="M34.9,254.4 L34.9,260.4 C34.9,263.6 39,265.6 44.4,265.6 C49.8,265.6 53.9,263.6 53.9,260.4 L53.9,254.4 Z" fill="#e2e2e2"/>
<path d="M34.9,257.6 C34.9,260.8 39,262.8 44.4,262.8 C49.8,262.8 53.9,260.8 53.9,257.6" fill="none"/>
<ellipse cx="44.4" cy="254.4" rx="9.5" ry="4.2" fill="#ededed"/>
<ellipse cx="44.4" cy="254.2" rx="6.4" ry="2.7" fill="#d0d0d0"/>
<ellipse cx="44.4" cy="254.4" rx="3.6" ry="1.4" fill="#fff"/>
</g>
<g id="bath" fill="none" stroke-linecap="round" stroke-linejoin="round">
<path d="M72.8,247.4 L136.4,247.4" stroke="#cfcfcf" stroke-width="2.3"/>
<path d="M75.8,249.6 L83.6,261.6 C84.6,262.8 86,263.4 88,263.4 L124.4,263.4 C126.4,263.2 127.4,262 128.2,260.4 L132.8,249.6" stroke="#9a9a9a" stroke-width="0.8"/>
<path d="M81.4,258.8 L126.8,258.8" stroke="#9a9a9a" stroke-width="0.8" stroke-dasharray="4.5 2.2"/>
<path d="M89.6,263.6 L88.8,267 L90.6,267 L91.6,263.6 M118.4,263.6 L119.4,267 L121,267 L120.6,263.6" stroke="#aaa" stroke-width="0.9"/>
<path d="M130.8,252.6 L127.6,259.6 C126.4,263.4 124.6,264.8 121.6,264.6 C118,264.6 116,262.8 113,263.6 C110.4,264.6 108,262.8 106,264 L104,266.4" stroke="#111" stroke-width="2.2"/>
<path d="M109.6,264.4 C111.6,266.6 115.6,265.2 117.2,266.4" stroke="#111" stroke-width="1.4"/>
</g>
<g id="grease" stroke-linecap="round" stroke-linejoin="round">
<text x="152.3" y="258.2" font-size="19" stroke="none">*</text>
<path d="M166.6,253.6 L175.2,253.6 M166.6,257.8 L175.2,257.8" stroke="#111" stroke-width="1.2"/>
<path d="M188.1,261.6 L197.8,268.8 L223.4,254.4 L223.4,251.2 L217,247.2 L197.6,258.4 Z" fill="#fff" stroke="#111" stroke-width="1.1"/>
<path d="M197.8,268.8 L197.8,265.6 L223.4,251.2 M197.8,265.6 L188.4,258.6" fill="none" stroke="#111" stroke-width="1.0"/>
<path d="M199.6,262.6 L216.6,252.8" stroke="#999" stroke-width="1.6"/>
<path d="M183.3,246.4 L210.6,231 L216.2,243.2 L188.1,261.6 Z" fill="#fff" stroke="#111" stroke-width="1.2"/>
<path d="M189.6,244.6 L209.4,233.4 L213.6,242.4 L195,254 Z" fill="#333" stroke="#111" stroke-width="0.8"/>
<path d="M192.6,246 L208.6,237 M194,249 L210,240 M196,252 L212,242.4 M199.6,241 l3,4 M204,238.6 l3,4" stroke="#ddd" stroke-width="0.6"/>
<circle cx="190" cy="248.8" r="1.6" fill="#fff" stroke="#111" stroke-width="0.7"/>
<path d="M174.6,231.8 L231.4,275.6 M231.4,231.8 L174.6,275.6" stroke="#111" stroke-width="1.5" fill="none"/>
</g>
<g id="p9">
<line x1="36.4" y1="310.6" x2="56.8" y2="321.6" stroke="#7c7c7c" stroke-width="6.6" stroke-linecap="round"/><line x1="36.4" y1="310.6" x2="56.8" y2="321.6" stroke="#fff" stroke-width="4.1" stroke-linecap="round"/>
<path d="M44.6,313 L54,318" stroke="#7c7c7c" stroke-width="0.7"/>
<ellipse cx="57.4" cy="322" rx="1.7" ry="2.5" transform="rotate(28 57.4 322)" fill="#fff" stroke="#7c7c7c" stroke-width="0.8"/>
<g stroke="#7c7c7c" stroke-width="1.2" fill="#fff" stroke-linecap="round" stroke-linejoin="round"><line x1="93.4" y1="319.6" x2="113.5" y2="331.4" stroke="#7c7c7c" stroke-width="5.0" stroke-linecap="round"/><line x1="93.4" y1="319.6" x2="113.5" y2="331.4" stroke="#fff" stroke-width="2.5" stroke-linecap="round"/><path d="M100.4,326.6 L103.0,322.3" stroke-width="0.8"/><path d="M72.2,310.0 L88.0,324.8 L91.1,325.9 L97.8,314.5 L95.3,312.4 L74.7,305.8 Z" fill="#f2f2f2"/><ellipse cx="77.0" cy="310.0" rx="1.4" ry="3.3" transform="rotate(30.4 77.0 310.0)" fill="none" stroke-width="1.7"/><ellipse cx="79.8" cy="311.7" rx="1.7" ry="3.9" transform="rotate(30.4 79.8 311.7)" fill="none" stroke-width="1.1"/><ellipse cx="82.6" cy="313.3" rx="1.9" ry="4.6" transform="rotate(30.4 82.6 313.3)" fill="none" stroke-width="1.7"/><ellipse cx="85.4" cy="314.9" rx="2.2" ry="5.3" transform="rotate(30.4 85.4 314.9)" fill="none" stroke-width="1.1"/><ellipse cx="88.2" cy="316.6" rx="2.5" ry="6.0" transform="rotate(30.4 88.2 316.6)" fill="none" stroke-width="1.7"/><ellipse cx="91.0" cy="318.2" rx="2.8" ry="6.6" transform="rotate(30.4 91.0 318.2)" fill="none" stroke-width="1.1"/><ellipse cx="94.4" cy="320.2" rx="2.8" ry="6.6" transform="rotate(30.4 94.4 320.2)" fill="#fff" stroke-width="0.9"/><circle cx="70.7" cy="306.3" r="2.8" fill="#6a6a6a" stroke="#777"/></g>
<g stroke="#7c7c7c" stroke-width="1.35" fill="#fff" stroke-linejoin="round" stroke-linecap="round"><path d="M105.4,309.4 l4,-2 l7,3.2 l1.6,4.6 l-1.4,6 l-4.6,2.8 l-5.4,-2.6 l-1.6,-5.4 l-1.8,-1.6 Z"/><path d="M106.6,309.0 l1.2,4.8 l5.6,2.4 l1.4,4.6 M112.2,316.0 l4.2,-1.8" fill="none"/><ellipse cx="113.8" cy="318.0" rx="1.9" ry="2.3" fill="#fff"/><ellipse cx="109.0" cy="315.4" rx="1.2" ry="1.5" fill="#fff" stroke-width="0.8"/><ellipse cx="116.6" cy="314.8" rx="1.3" ry="1.6" fill="#fff" stroke-width="0.8"/></g>
<g stroke="#7c7c7c" stroke-width="1.35" fill="#fff" stroke-linejoin="round" stroke-linecap="round"><path d="M121.0,307.6 l4,-2 l7,3.2 l1.6,4.6 l-1.4,6 l-4.6,2.8 l-5.4,-2.6 l-1.6,-5.4 l-1.8,-1.6 Z"/><path d="M122.2,307.2 l1.2,4.8 l5.6,2.4 l1.4,4.6 M127.8,314.2 l4.2,-1.8" fill="none"/><ellipse cx="129.4" cy="316.2" rx="1.9" ry="2.3" fill="#fff"/><ellipse cx="124.6" cy="313.6" rx="1.2" ry="1.5" fill="#fff" stroke-width="0.8"/><ellipse cx="132.2" cy="313.0" rx="1.3" ry="1.6" fill="#fff" stroke-width="0.8"/></g>
<g stroke="#7c7c7c" stroke-width="1.3" fill="#fff" stroke-linejoin="round" stroke-linecap="round"><path d="M33.2,328.2 c-3,1 -6.6,6 -7.4,11.6 c-0.8,5 0.4,9.4 3,10.6 l9.6,5.4 l8.6,-22.6 l-7,-5.6 Z"/><path d="M29.0,347.2 c-0.8,-4 0.6,-9 3.6,-12.4 M27.0,343.4 l8,4.6 M28.6,334.8 l8.6,5" fill="none" stroke-width="0.9"/><path d="M34.2,329.2 l3,-2.2 l3.4,1.6 l0,3 M39.6,331.4 l3.6,-2 l3.6,2" fill="none" stroke-width="0.9"/><path d="M40.2,334.2 c3.4,-2.6 8,-1.6 10.6,1.6 c2.6,3.4 3.4,8.6 2.2,13.6 c-1.2,5 -4.4,9 -8,10.4 c-3,1 -6,0 -7.6,-2.4 c-2.4,-3.4 -3,-8.8 -1.8,-13.6 c0.8,-4 2.4,-7.6 4.6,-9.6 Z"/><path d="M39.0,336.4 c-2.6,3 -4,8 -3.6,12.4 c0.4,3.6 1.8,6.2 4,7.2" fill="none" stroke-width="1.6" stroke="#9a9a9a"/><ellipse cx="44.6" cy="343.4" rx="2.7" ry="3.4" transform="rotate(20 44.6 343.4)" stroke-width="1.2"/><ellipse cx="44.8" cy="343.6" rx="1.4" ry="1.9" transform="rotate(20 44.8 343.6)" stroke-width="0.8"/><ellipse cx="49.2" cy="347.8" rx="2.2" ry="2.7" transform="rotate(20 49.2 347.8)" stroke-width="1.1"/><ellipse cx="40.8" cy="352.2" rx="2.2" ry="2.7" transform="rotate(20 40.8 352.2)" stroke-width="1.1"/><line x1="49.0" y1="335.2" x2="56.0" y2="339.2" stroke="#7c7c7c" stroke-width="4.0" stroke-linecap="round"/><line x1="49.0" y1="335.2" x2="56.0" y2="339.2" stroke="#fff" stroke-width="1.5" stroke-linecap="round"/><line x1="43.8" y1="356.4" x2="48.2" y2="359.0" stroke="#7c7c7c" stroke-width="4.0" stroke-linecap="round"/><line x1="43.8" y1="356.4" x2="48.2" y2="359.0" stroke="#fff" stroke-width="1.5" stroke-linecap="round"/></g>
<line x1="80.1" y1="329.1" x2="89.3" y2="334.3" stroke="#7c7c7c" stroke-width="4.2" stroke-linecap="round"/><line x1="80.1" y1="329.1" x2="89.3" y2="334.3" stroke="#fff" stroke-width="1.7" stroke-linecap="round"/>
<line x1="73.1" y1="333.8" x2="82.3" y2="339.0" stroke="#7c7c7c" stroke-width="4.2" stroke-linecap="round"/><line x1="73.1" y1="333.8" x2="82.3" y2="339.0" stroke="#fff" stroke-width="1.7" stroke-linecap="round"/>
<line x1="66.9" y1="338.4" x2="76.1" y2="343.6" stroke="#7c7c7c" stroke-width="4.2" stroke-linecap="round"/><line x1="66.9" y1="338.4" x2="76.1" y2="343.6" stroke="#fff" stroke-width="1.7" stroke-linecap="round"/>
<line x1="60.6" y1="343.2" x2="69.8" y2="348.4" stroke="#7c7c7c" stroke-width="4.2" stroke-linecap="round"/><line x1="60.6" y1="343.2" x2="69.8" y2="348.4" stroke="#fff" stroke-width="1.7" stroke-linecap="round"/>
<line x1="84.7" y1="345.7" x2="97.2" y2="352.7" stroke="#868686" stroke-width="2.4" stroke-linecap="round"/><line x1="84.7" y1="345.7" x2="97.2" y2="352.7" stroke="#d8d8d8" stroke-width="0.6"/><circle cx="97.2" cy="352.7" r="2.0" fill="#868686"/>
<line x1="76.9" y1="350.4" x2="91.0" y2="357.6" stroke="#868686" stroke-width="2.4" stroke-linecap="round"/><line x1="76.9" y1="350.4" x2="91.0" y2="357.6" stroke="#d8d8d8" stroke-width="0.6"/><circle cx="91.0" cy="357.6" r="2.0" fill="#868686"/>
<line x1="84.0" y1="350.4" x2="97.2" y2="357.6" stroke="#868686" stroke-width="2.4" stroke-linecap="round"/><line x1="84.0" y1="350.4" x2="97.2" y2="357.6" stroke="#d8d8d8" stroke-width="0.6"/><circle cx="97.2" cy="357.6" r="2.0" fill="#868686"/>
<line x1="77.7" y1="355.2" x2="91.0" y2="362.4" stroke="#868686" stroke-width="2.4" stroke-linecap="round"/><line x1="77.7" y1="355.2" x2="91.0" y2="362.4" stroke="#d8d8d8" stroke-width="0.6"/><circle cx="91.0" cy="362.4" r="2.0" fill="#868686"/>
<line x1="102.7" y1="333.2" x2="135.4" y2="351.2" stroke="#868686" stroke-width="2.5" stroke-linecap="round"/><line x1="102.7" y1="333.2" x2="135.4" y2="351.2" stroke="#d8d8d8" stroke-width="0.6"/><circle cx="135.4" cy="351.2" r="2.0" fill="#868686"/>
<line x1="102.7" y1="339.5" x2="135.4" y2="357.4" stroke="#868686" stroke-width="2.5" stroke-linecap="round"/><line x1="102.7" y1="339.5" x2="135.4" y2="357.4" stroke="#d8d8d8" stroke-width="0.6"/><circle cx="135.4" cy="357.4" r="2.0" fill="#868686"/>
<line x1="94.9" y1="338.7" x2="127.6" y2="356.6" stroke="#868686" stroke-width="2.5" stroke-linecap="round"/><line x1="94.9" y1="338.7" x2="127.6" y2="356.6" stroke="#d8d8d8" stroke-width="0.6"/><circle cx="127.6" cy="356.6" r="2.0" fill="#868686"/>
<line x1="94.9" y1="344.1" x2="127.6" y2="362.0" stroke="#868686" stroke-width="2.5" stroke-linecap="round"/><line x1="94.9" y1="344.1" x2="127.6" y2="362.0" stroke="#d8d8d8" stroke-width="0.6"/><circle cx="127.6" cy="362.0" r="2.0" fill="#868686"/>
</g>
<g id="p10">
<g stroke="#7c7c7c" stroke-width="1.2" fill="#fff" stroke-linecap="round" stroke-linejoin="round"><line x1="88.6" y1="397.2" x2="116.6" y2="413.1" stroke="#7c7c7c" stroke-width="5.0" stroke-linecap="round"/><line x1="88.6" y1="397.2" x2="116.6" y2="413.1" stroke="#fff" stroke-width="2.5" stroke-linecap="round"/><path d="M99.6,406.4 L102.0,402.0" stroke-width="0.8"/><path d="M66.4,388.0 L83.3,402.5 L86.4,403.5 L92.9,392.0 L90.4,389.9 L68.8,383.8 Z" fill="#f2f2f2"/><ellipse cx="71.3" cy="387.9" rx="1.4" ry="3.3" transform="rotate(29.1 71.3 387.9)" fill="none" stroke-width="1.7"/><ellipse cx="74.3" cy="389.6" rx="1.7" ry="3.9" transform="rotate(29.1 74.3 389.6)" fill="none" stroke-width="1.1"/><ellipse cx="77.2" cy="391.2" rx="1.9" ry="4.6" transform="rotate(29.1 77.2 391.2)" fill="none" stroke-width="1.7"/><ellipse cx="80.1" cy="392.8" rx="2.2" ry="5.3" transform="rotate(29.1 80.1 392.8)" fill="none" stroke-width="1.1"/><ellipse cx="83.0" cy="394.5" rx="2.5" ry="6.0" transform="rotate(29.1 83.0 394.5)" fill="none" stroke-width="1.7"/><ellipse cx="85.9" cy="396.1" rx="2.8" ry="6.6" transform="rotate(29.1 85.9 396.1)" fill="none" stroke-width="1.1"/><ellipse cx="89.6" cy="397.8" rx="2.8" ry="6.6" transform="rotate(29.1 89.6 397.8)" fill="#fff" stroke-width="0.9"/><circle cx="64.8" cy="384.3" r="2.8" fill="#6a6a6a" stroke="#777"/></g>
<g stroke="#7c7c7c" stroke-width="1.35" fill="#fff" stroke-linejoin="round" stroke-linecap="round"><path d="M106.6,391.4 l4,-2 l7,3.2 l1.6,4.6 l-1.4,6 l-4.6,2.8 l-5.4,-2.6 l-1.6,-5.4 l-1.8,-1.6 Z"/><path d="M107.8,391.0 l1.2,4.8 l5.6,2.4 l1.4,4.6 M113.4,398.0 l4.2,-1.8" fill="none"/><ellipse cx="115.0" cy="400.0" rx="1.9" ry="2.3" fill="#fff"/><ellipse cx="110.2" cy="397.4" rx="1.2" ry="1.5" fill="#fff" stroke-width="0.8"/><ellipse cx="117.8" cy="396.8" rx="1.3" ry="1.6" fill="#fff" stroke-width="0.8"/></g>
<g stroke="#7c7c7c" stroke-width="1.35" fill="#fff" stroke-linejoin="round" stroke-linecap="round"><path d="M122.0,390.2 l4,-2 l7,3.2 l1.6,4.6 l-1.4,6 l-4.6,2.8 l-5.4,-2.6 l-1.6,-5.4 l-1.8,-1.6 Z"/><path d="M123.2,389.8 l1.2,4.8 l5.6,2.4 l1.4,4.6 M128.8,396.8 l4.2,-1.8" fill="none"/><ellipse cx="130.4" cy="398.8" rx="1.9" ry="2.3" fill="#fff"/><ellipse cx="125.6" cy="396.2" rx="1.2" ry="1.5" fill="#fff" stroke-width="0.8"/><ellipse cx="133.2" cy="395.6" rx="1.3" ry="1.6" fill="#fff" stroke-width="0.8"/></g>
<g stroke="#7c7c7c" stroke-width="1.3" fill="#fff" stroke-linejoin="round" stroke-linecap="round"><path d="M35.2,396.2 c-3,1 -6.6,6 -7.4,11.6 c-0.8,5 0.4,9.4 3,10.6 l9.6,5.4 l8.6,-22.6 l-7,-5.6 Z"/><path d="M31.0,415.2 c-0.8,-4 0.6,-9 3.6,-12.4 M29.0,411.4 l8,4.6 M30.6,402.8 l8.6,5" fill="none" stroke-width="0.9"/><path d="M36.2,397.2 l3,-2.2 l3.4,1.6 l0,3 M41.6,399.4 l3.6,-2 l3.6,2" fill="none" stroke-width="0.9"/><path d="M42.2,402.2 c3.4,-2.6 8,-1.6 10.6,1.6 c2.6,3.4 3.4,8.6 2.2,13.6 c-1.2,5 -4.4,9 -8,10.4 c-3,1 -6,0 -7.6,-2.4 c-2.4,-3.4 -3,-8.8 -1.8,-13.6 c0.8,-4 2.4,-7.6 4.6,-9.6 Z"/><path d="M41.0,404.4 c-2.6,3 -4,8 -3.6,12.4 c0.4,3.6 1.8,6.2 4,7.2" fill="none" stroke-width="1.6" stroke="#9a9a9a"/><ellipse cx="46.6" cy="411.4" rx="2.7" ry="3.4" transform="rotate(20 46.6 411.4)" stroke-width="1.2"/><ellipse cx="46.8" cy="411.6" rx="1.4" ry="1.9" transform="rotate(20 46.8 411.6)" stroke-width="0.8"/><ellipse cx="51.2" cy="415.8" rx="2.2" ry="2.7" transform="rotate(20 51.2 415.8)" stroke-width="1.1"/><ellipse cx="42.8" cy="420.2" rx="2.2" ry="2.7" transform="rotate(20 42.8 420.2)" stroke-width="1.1"/><line x1="51.0" y1="403.2" x2="58.0" y2="407.2" stroke="#7c7c7c" stroke-width="4.0" stroke-linecap="round"/><line x1="51.0" y1="403.2" x2="58.0" y2="407.2" stroke="#fff" stroke-width="1.5" stroke-linecap="round"/><line x1="45.8" y1="424.4" x2="50.2" y2="427.0" stroke="#7c7c7c" stroke-width="4.0" stroke-linecap="round"/><line x1="45.8" y1="424.4" x2="50.2" y2="427.0" stroke="#fff" stroke-width="1.5" stroke-linecap="round"/></g>
<g stroke="#7c7c7c" stroke-width="1.3" fill="#fff" stroke-linejoin="round" stroke-linecap="round"><path d="M50.0,407.0 c-3,1 -6.6,6 -7.4,11.6 c-0.8,5 0.4,9.4 3,10.6 l9.6,5.4 l8.6,-22.6 l-7,-5.6 Z"/><path d="M45.8,426.0 c-0.8,-4 0.6,-9 3.6,-12.4 M43.8,422.2 l8,4.6 M45.4,413.6 l8.6,5" fill="none" stroke-width="0.9"/><path d="M51.0,408.0 l3,-2.2 l3.4,1.6 l0,3 M56.4,410.2 l3.6,-2 l3.6,2" fill="none" stroke-width="0.9"/><path d="M57.0,413.0 c3.4,-2.6 8,-1.6 10.6,1.6 c2.6,3.4 3.4,8.6 2.2,13.6 c-1.2,5 -4.4,9 -8,10.4 c-3,1 -6,0 -7.6,-2.4 c-2.4,-3.4 -3,-8.8 -1.8,-13.6 c0.8,-4 2.4,-7.6 4.6,-9.6 Z"/><path d="M55.8,415.2 c-2.6,3 -4,8 -3.6,12.4 c0.4,3.6 1.8,6.2 4,7.2" fill="none" stroke-width="1.6" stroke="#9a9a9a"/><ellipse cx="61.4" cy="422.2" rx="2.7" ry="3.4" transform="rotate(20 61.4 422.2)" stroke-width="1.2"/><ellipse cx="61.6" cy="422.4" rx="1.4" ry="1.9" transform="rotate(20 61.6 422.4)" stroke-width="0.8"/><ellipse cx="66.0" cy="426.6" rx="2.2" ry="2.7" transform="rotate(20 66.0 426.6)" stroke-width="1.1"/><ellipse cx="57.6" cy="431.0" rx="2.2" ry="2.7" transform="rotate(20 57.6 431.0)" stroke-width="1.1"/><line x1="65.8" y1="414.0" x2="72.8" y2="418.0" stroke="#7c7c7c" stroke-width="4.0" stroke-linecap="round"/><line x1="65.8" y1="414.0" x2="72.8" y2="418.0" stroke="#fff" stroke-width="1.5" stroke-linecap="round"/><line x1="60.6" y1="435.2" x2="65.0" y2="437.8" stroke="#7c7c7c" stroke-width="4.0" stroke-linecap="round"/><line x1="60.6" y1="435.2" x2="65.0" y2="437.8" stroke="#fff" stroke-width="1.5" stroke-linecap="round"/></g>
<line x1="81.4" y1="409.6" x2="102.4" y2="420.6" stroke="#7c7c7c" stroke-width="6.8" stroke-linecap="round"/><line x1="81.4" y1="409.6" x2="102.4" y2="420.6" stroke="#fff" stroke-width="4.3" stroke-linecap="round"/>
<path d="M88.6,411.6 L98,416.6" stroke="#7c7c7c" stroke-width="0.7"/>
<ellipse cx="103" cy="421" rx="1.7" ry="2.6" transform="rotate(28 103 421)" fill="#fff" stroke="#7c7c7c" stroke-width="0.8"/>
<line x1="83.4" y1="421.2" x2="97.2" y2="428.6" stroke="#7c7c7c" stroke-width="4.2" stroke-linecap="round"/><line x1="83.4" y1="421.2" x2="97.2" y2="428.6" stroke="#fff" stroke-width="1.7" stroke-linecap="round"/>
<line x1="71.4" y1="428.0" x2="85.2" y2="435.4" stroke="#7c7c7c" stroke-width="4.2" stroke-linecap="round"/><line x1="71.4" y1="428.0" x2="85.2" y2="435.4" stroke="#fff" stroke-width="1.7" stroke-linecap="round"/>
<line x1="83.4" y1="428.8" x2="97.2" y2="436.2" stroke="#7c7c7c" stroke-width="4.2" stroke-linecap="round"/><line x1="83.4" y1="428.8" x2="97.2" y2="436.2" stroke="#fff" stroke-width="1.7" stroke-linecap="round"/>
<line x1="71.4" y1="434.8" x2="85.2" y2="442.2" stroke="#7c7c7c" stroke-width="4.2" stroke-linecap="round"/><line x1="71.4" y1="434.8" x2="85.2" y2="442.2" stroke="#fff" stroke-width="1.7" stroke-linecap="round"/>
<line x1="105.4" y1="425.2" x2="129.4" y2="438.9" stroke="#868686" stroke-width="2.5" stroke-linecap="round"/><line x1="105.4" y1="425.2" x2="129.4" y2="438.9" stroke="#d8d8d8" stroke-width="0.6"/><circle cx="129.4" cy="438.9" r="2.0" fill="#868686"/>
<line x1="112.3" y1="420.1" x2="136.2" y2="432.9" stroke="#868686" stroke-width="2.5" stroke-linecap="round"/><line x1="112.3" y1="420.1" x2="136.2" y2="432.9" stroke="#d8d8d8" stroke-width="0.6"/><circle cx="136.2" cy="432.9" r="2.0" fill="#868686"/>
<line x1="112.3" y1="425.2" x2="136.2" y2="438.0" stroke="#868686" stroke-width="2.5" stroke-linecap="round"/><line x1="112.3" y1="425.2" x2="136.2" y2="438.0" stroke="#d8d8d8" stroke-width="0.6"/><circle cx="136.2" cy="438.0" r="2.0" fill="#868686"/>
<line x1="105.4" y1="430.4" x2="129.4" y2="444.0" stroke="#868686" stroke-width="2.5" stroke-linecap="round"/><line x1="105.4" y1="430.4" x2="129.4" y2="444.0" stroke="#d8d8d8" stroke-width="0.6"/><circle cx="129.4" cy="444.0" r="2.0" fill="#868686"/>
<line x1="29.4" y1="422.7" x2="50.8" y2="434.6" stroke="#868686" stroke-width="2.5" stroke-linecap="round"/><line x1="29.4" y1="422.7" x2="50.8" y2="434.6" stroke="#d8d8d8" stroke-width="0.6"/><circle cx="50.8" cy="434.6" r="2.0" fill="#868686"/>
<line x1="23.4" y1="427.8" x2="45.6" y2="439.8" stroke="#868686" stroke-width="2.5" stroke-linecap="round"/><line x1="23.4" y1="427.8" x2="45.6" y2="439.8" stroke="#d8d8d8" stroke-width="0.6"/><circle cx="45.6" cy="439.8" r="2.0" fill="#868686"/>
<line x1="29.4" y1="427.8" x2="50.8" y2="438.9" stroke="#868686" stroke-width="2.5" stroke-linecap="round"/><line x1="29.4" y1="427.8" x2="50.8" y2="438.9" stroke="#d8d8d8" stroke-width="0.6"/><circle cx="50.8" cy="438.9" r="2.0" fill="#868686"/>
<line x1="23.4" y1="432.1" x2="45.6" y2="444.0" stroke="#868686" stroke-width="2.5" stroke-linecap="round"/><line x1="23.4" y1="432.1" x2="45.6" y2="444.0" stroke="#d8d8d8" stroke-width="0.6"/><circle cx="45.6" cy="444.0" r="2.0" fill="#868686"/>
</g>
<g stroke-linecap="butt" stroke-linejoin="miter"><rect x="171.4" y="312.7" width="17.9" height="5.4" fill="#666" stroke="#111" stroke-width="1"/><line x1="172.4" y1="314.9" x2="188.3" y2="314.9" stroke="#ddd" stroke-width="1"/><path d="M189.3,313.7 L199.2,313.7 L199.2,318.1 L189.3,318.1" fill="#fff" stroke="#aaa" stroke-width="0.8"/><line x1="190.8" y1="317.9" x2="194.0" y2="313.9" stroke="#b5b5b5" stroke-width="0.6"/><line x1="193.4" y1="317.9" x2="196.6" y2="313.9" stroke="#b5b5b5" stroke-width="0.6"/><line x1="196.0" y1="317.9" x2="199.2" y2="313.9" stroke="#b5b5b5" stroke-width="0.6"/><path d="M145.4,304.3 L160.4,301.9 L162.4,301.9 L162.4,350.3 L149.9,350.3 L145.4,347.9 Z" fill="#fff" stroke="#0a0a0a" stroke-width="1.5"/><path d="M148.2,304.3 L148.2,347.9 M154.4,303.3 L154.4,349.9 M158.0,302.5 L158.0,349.9" stroke="#111" stroke-width="1.2" fill="none"/><path d="M145.4,316.9 L154.4,316.9 M145.4,331.9 L154.4,331.9" stroke="#111" stroke-width="0.9"/><circle cx="153.6" cy="326.3" r="4" fill="#fff" stroke="#0a0a0a" stroke-width="1.6"/><circle cx="153.6" cy="326.3" r="1.7" fill="#888" stroke="#111" stroke-width="0.8"/><ellipse cx="153.6" cy="346.5" rx="4.2" ry="3.4" fill="#fff" stroke="#0a0a0a" stroke-width="1.6"/><ellipse cx="153.6" cy="346.5" rx="2" ry="1.5" fill="#888" stroke="#111" stroke-width="0.7"/><path d="M162.4,303.9 L164.4,309.5 L169.8,310.9 L171.4,312.5 L171.4,319.9 L169.4,320.9 L169.4,331.9 L166.4,332.9 L162.4,332.9 Z" fill="#fff" stroke="#0a0a0a" stroke-width="1.3"/><path d="M166.8,310.9 L166.8,331.9 M162.4,320.9 L169.4,320.9" stroke="#111" stroke-width="0.9"/><path d="M162.4,332.9 L171.4,332.9 L171.4,327.3 L177.0,327.3 L177.0,346.9 L162.4,348.9 Z" fill="#fff" stroke="#222" stroke-width="1.1"/><path d="M163.4,336.9 h8.6 M163.4,341.9 h8.6 M171.4,328.9 v18 M167.4,333.9 v14" stroke="#333" stroke-width="1" fill="none"/><rect x="163.8" y="333.9" width="4" height="3.4" fill="#444"/><path d="M172.0,323.5 h5.6 v4 h4.6" fill="none" stroke="#bbb" stroke-width="0.8"/><path d="M177.0,332.9 L182.2,328.9 L191.5,328.9 L191.5,342.9 L186.5,345.9 L177.0,345.9 Z" fill="#fff" stroke="#aaa" stroke-width="0.8"/><line x1="178.4" y1="345.9" x2="191.0" y2="333.3" stroke="#9c9c9c" stroke-width="0.7"/><line x1="182.0" y1="345.9" x2="191.0" y2="336.9" stroke="#9c9c9c" stroke-width="0.7"/><line x1="185.6" y1="345.9" x2="191.0" y2="340.5" stroke="#9c9c9c" stroke-width="0.7"/><line x1="189.2" y1="345.9" x2="191.0" y2="344.1" stroke="#9c9c9c" stroke-width="0.7"/><path d="M189.3,293.9 V318.1 M199.2,293.9 V318.1" stroke="#111" stroke-width="0.9" fill="none"/><path d="M165.9,297.1 H189.3 M199.2,297.1 H210.8" stroke="#111" stroke-width="0.8"/><text x="168.3" y="296.2" font-size="7.6" stroke="none">+25</text><path d="M189.3,297.1 l-4.6,-1.3 v2.6 Z M199.2,297.1 l4.6,-1.3 v2.6 Z" fill="#111" stroke="none"/><path d="M180.4,343.3 V359.3 M190.3,343.3 V359.3" stroke="#111" stroke-width="0.9" fill="none"/><path d="M169.6,356.3 H180.4 M190.3,356.3 H212.8" stroke="#111" stroke-width="0.8"/><text x="196.3" y="355.0" font-size="7.6" stroke="none">+25</text><path d="M180.4,356.3 l-4.6,-1.3 v2.6 Z M190.3,356.3 l4.6,-1.3 v2.6 Z" fill="#111" stroke="none"/></g>
<g stroke-linecap="butt" stroke-linejoin="miter"><rect x="171.0" y="393.2" width="17.9" height="5.4" fill="#666" stroke="#111" stroke-width="1"/><line x1="172.0" y1="395.4" x2="187.9" y2="395.4" stroke="#ddd" stroke-width="1"/><path d="M188.9,394.2 L208.5,394.2 L208.5,398.6 L188.9,398.6" fill="#fff" stroke="#aaa" stroke-width="0.8"/><line x1="190.4" y1="398.4" x2="193.6" y2="394.4" stroke="#b5b5b5" stroke-width="0.6"/><line x1="193.0" y1="398.4" x2="196.2" y2="394.4" stroke="#b5b5b5" stroke-width="0.6"/><line x1="195.6" y1="398.4" x2="198.8" y2="394.4" stroke="#b5b5b5" stroke-width="0.6"/><line x1="198.2" y1="398.4" x2="201.4" y2="394.4" stroke="#b5b5b5" stroke-width="0.6"/><line x1="200.8" y1="398.4" x2="204.0" y2="394.4" stroke="#b5b5b5" stroke-width="0.6"/><line x1="203.4" y1="398.4" x2="206.6" y2="394.4" stroke="#b5b5b5" stroke-width="0.6"/><line x1="206.0" y1="398.4" x2="209.2" y2="394.4" stroke="#b5b5b5" stroke-width="0.6"/><path d="M145.0,384.8 L160.0,382.4 L162.0,382.4 L162.0,430.8 L149.5,430.8 L145.0,428.4 Z" fill="#fff" stroke="#0a0a0a" stroke-width="1.5"/><path d="M147.8,384.8 L147.8,428.4 M154.0,383.8 L154.0,430.4 M157.6,383.0 L157.6,430.4" stroke="#111" stroke-width="1.2" fill="none"/><path d="M145.0,397.4 L154.0,397.4 M145.0,412.4 L154.0,412.4" stroke="#111" stroke-width="0.9"/><circle cx="153.2" cy="406.8" r="4" fill="#fff" stroke="#0a0a0a" stroke-width="1.6"/><circle cx="153.2" cy="406.8" r="1.7" fill="#888" stroke="#111" stroke-width="0.8"/><ellipse cx="153.2" cy="427.0" rx="4.2" ry="3.4" fill="#fff" stroke="#0a0a0a" stroke-width="1.6"/><ellipse cx="153.2" cy="427.0" rx="2" ry="1.5" fill="#888" stroke="#111" stroke-width="0.7"/><path d="M162.0,384.4 L164.0,390.0 L169.4,391.4 L171.0,393.0 L171.0,400.4 L169.0,401.4 L169.0,412.4 L166.0,413.4 L162.0,413.4 Z" fill="#fff" stroke="#0a0a0a" stroke-width="1.3"/><path d="M166.4,391.4 L166.4,412.4 M162.0,401.4 L169.0,401.4" stroke="#111" stroke-width="0.9"/><path d="M162.0,413.4 L171.0,413.4 L171.0,407.8 L176.6,407.8 L176.6,427.4 L162.0,429.4 Z" fill="#fff" stroke="#222" stroke-width="1.1"/><path d="M163.0,417.4 h8.6 M163.0,422.4 h8.6 M171.0,409.4 v18 M167.0,414.4 v14" stroke="#333" stroke-width="1" fill="none"/><rect x="163.4" y="414.4" width="4" height="3.4" fill="#444"/><path d="M171.6,404.0 h5.6 v4 h4.6" fill="none" stroke="#bbb" stroke-width="0.8"/><path d="M176.6,413.4 L181.8,409.4 L200.8,409.4 L200.8,423.4 L195.8,426.4 L176.6,426.4 Z" fill="#fff" stroke="#aaa" stroke-width="0.8"/><line x1="178.0" y1="426.4" x2="195.0" y2="409.4" stroke="#9c9c9c" stroke-width="0.7"/><line x1="181.6" y1="426.4" x2="198.6" y2="409.4" stroke="#9c9c9c" stroke-width="0.7"/><line x1="185.2" y1="426.4" x2="200.3" y2="411.3" stroke="#9c9c9c" stroke-width="0.7"/><line x1="188.8" y1="426.4" x2="200.3" y2="414.9" stroke="#9c9c9c" stroke-width="0.7"/><line x1="192.4" y1="426.4" x2="200.3" y2="418.5" stroke="#9c9c9c" stroke-width="0.7"/><line x1="196.0" y1="426.4" x2="200.3" y2="422.1" stroke="#9c9c9c" stroke-width="0.7"/><line x1="199.6" y1="426.4" x2="200.3" y2="425.7" stroke="#9c9c9c" stroke-width="0.7"/><path d="M188.9,382.4 V398.6 M208.5,382.4 V398.6" stroke="#111" stroke-width="0.9" fill="none"/><path d="M177.5,386.7 H188.9 M208.5,386.7 H220.3" stroke="#111" stroke-width="0.8"/><text x="192.1" y="389.8" font-size="8.4" stroke="none">+50</text><path d="M188.9,386.7 l-4.6,-1.3 v2.6 Z M208.5,386.7 l4.6,-1.3 v2.6 Z" fill="#111" stroke="none"/><path d="M180.0,423.8 V439.2 M199.6,423.8 V439.2" stroke="#111" stroke-width="0.9" fill="none"/><path d="M169.3,436.2 H180.0 M199.6,436.2 H211.3" stroke="#111" stroke-width="0.8"/><text x="183.2" y="439.4" font-size="8.4" stroke="none">+50</text><path d="M180.0,436.2 l-4.6,-1.3 v2.6 Z M199.6,436.2 l4.6,-1.3 v2.6 Z" fill="#111" stroke="none"/></g>
</svg>
</body>
</html>
